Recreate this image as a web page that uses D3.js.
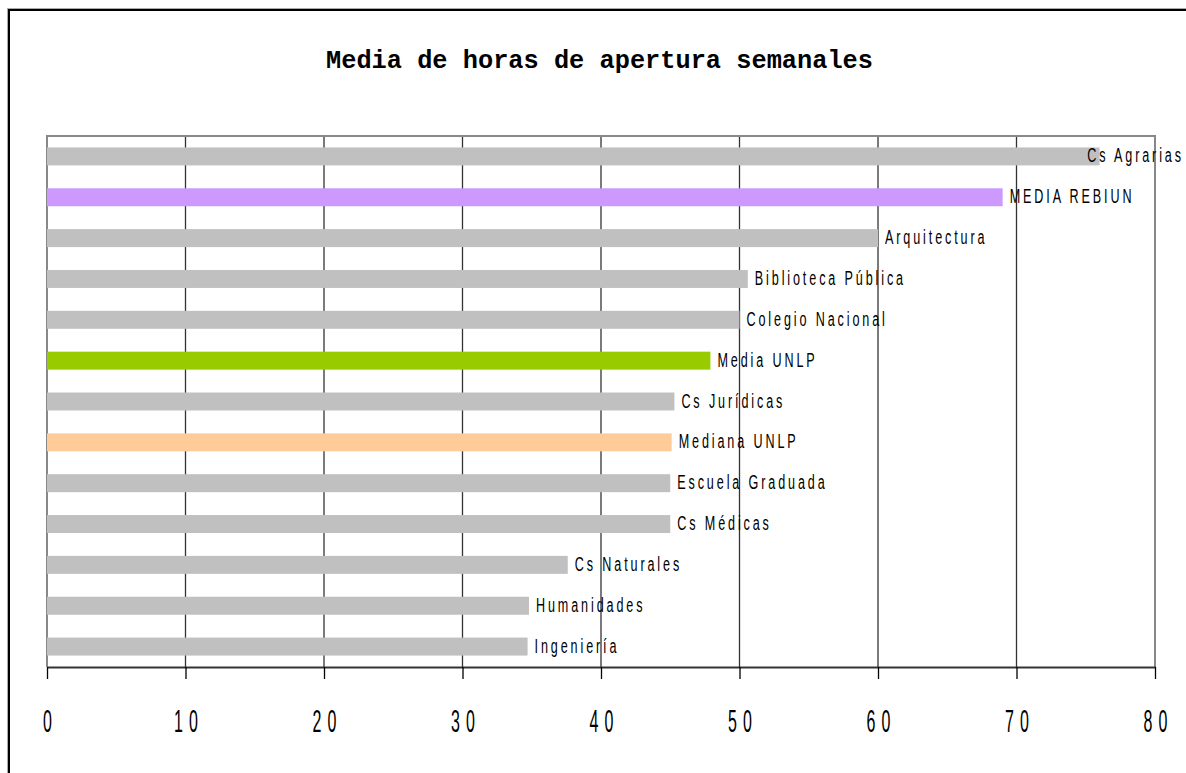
<!DOCTYPE html>
<html>
<head>
<meta charset="utf-8">
<script src="https://cdn.jsdelivr.net/npm/d3@7"></script>
<style>
  body { margin: 0; background: #fff; }
</style>
</head>
<body>
<div id="chart"></div>
<script>
// data, top bar first
var categories = ["Cs Agrarias", "MEDIA REBIUN", "Arquitectura", "Biblioteca Pública", "Colegio Nacional",
    "Media UNLP", "Cs Jurídicas", "Mediana UNLP", "Escuela Graduada", "Cs Médicas",
    "Cs Naturales", "Humanidades", "Ingeniería"];
var hours = [76.0, 69.0, 60.0, 50.6, 50.0, 47.9, 45.3, 45.1, 45.0, 45.0, 37.6, 34.8, 34.7];
var barColors = ["#C0C0C0", "#CC99FF", "#C0C0C0", "#C0C0C0", "#C0C0C0",
    "#99CC00", "#C0C0C0", "#FFCC99", "#C0C0C0", "#C0C0C0",
    "#C0C0C0", "#C0C0C0", "#C0C0C0"];
var tickValues = [0, 10, 20, 30, 40, 50, 60, 70, 80];
var title = "Media de horas de apertura semanales";

var W = 1186, H = 773;
var plot = { left: 47, right: 1155, top: 136, bottom: 667 };

var svg = d3.select("#chart").append("svg")
    .attr("width", W)
    .attr("height", H);

// outer frame (runs off the right and bottom edges)
svg.append("rect")
    .attr("x", 7.5).attr("y", 8.5)
    .attr("width", 1300).attr("height", 900)
    .attr("fill", "none").attr("stroke", "#aaa").attr("stroke-width", 1);
svg.append("rect")
    .attr("x", 9).attr("y", 10)
    .attr("width", 1300).attr("height", 900)
    .attr("fill", "none").attr("stroke", "#000").attr("stroke-width", 2);

// title
svg.append("text")
    .attr("x", 326).attr("y", 68)
    .attr("textLength", 547)
    .attr("lengthAdjust", "spacingAndGlyphs")
    .style("font-family", "'Liberation Mono', 'DejaVu Sans Mono', monospace")
    .style("font-weight", "bold")
    .style("font-size", "25px")
    .attr("fill", "#000")
    .text(title);

var x = d3.scaleLinear().domain([0, 80]).range([plot.left, plot.right]);
var y = d3.scaleBand().domain(categories)
    .range([plot.top, plot.bottom])
    .paddingInner(0.56).paddingOuter(0.28);

// gridlines
svg.append("g").selectAll("line")
    .data(tickValues.filter(function(d) { return d > 0 && d < 80; }))
    .join("line")
    .attr("x1", function(d) { return x(d); })
    .attr("x2", function(d) { return x(d); })
    .attr("y1", plot.top).attr("y2", plot.bottom)
    .attr("stroke", "#333").attr("stroke-width", 1.3);

// plot border: top, right, left in grey
svg.append("path")
    .attr("d", "M" + plot.left + "," + plot.bottom + "V" + plot.top + "H" + plot.right + "V" + plot.bottom)
    .attr("fill", "none").attr("stroke", "#888").attr("stroke-width", 2);

// bars
svg.append("g").selectAll("rect")
    .data(categories)
    .join("rect")
    .attr("x", x(0))
    .attr("y", function(d) { return y(d); })
    .attr("width", function(d, i) { return x(hours[i]) - x(0); })
    .attr("height", y.bandwidth())
    .attr("fill", function(d, i) { return barColors[i]; });

// bar labels, pulled back left when they would run off the page
var sx = 0.6;
var labels = svg.append("g").selectAll("text")
    .data(categories)
    .join("text")
    .style("font-family", "'Liberation Sans', Arial, sans-serif")
    .style("font-size", "21px")
    .style("letter-spacing", "4.8px")
    .attr("fill", "#000")
    .text(function(d) { return d; });
labels.attr("transform", function(d, i) {
    var w = this.getComputedTextLength() * sx;
    var lx = Math.min(x(hours[i]) + 7, W - 2 - w);
    return "translate(" + lx + "," + (y(d) + y.bandwidth() / 2 + 6) + ") scale(" + sx + ",1)";
});

// x axis
var xAxis = d3.axisBottom(x).tickValues(tickValues).tickSize(12).tickPadding(0).tickSizeOuter(0);
var ax = svg.append("g")
    .attr("transform", "translate(0," + plot.bottom + ")")
    .call(xAxis);
ax.select(".domain").attr("stroke", "#333").attr("stroke-width", 2);
ax.selectAll(".tick line").attr("stroke", "#000").attr("stroke-width", 1.3);
ax.selectAll(".tick text")
    .attr("y", 65).attr("dy", 0)
    .attr("dx", 6)
    .attr("transform", "scale(0.5,1)")
    .style("font-family", "'Liberation Sans', Arial, sans-serif")
    .style("font-size", "32px")
    .style("letter-spacing", "12px")
    .attr("fill", "#000");
</script>
</body>
</html>
